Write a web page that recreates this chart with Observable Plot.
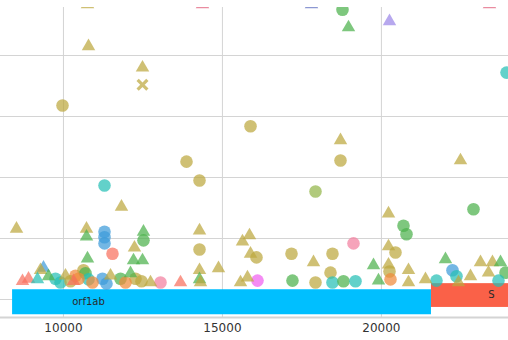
<!DOCTYPE html>
<html>
<head>
<meta charset="utf-8">
<script src="https://cdn.jsdelivr.net/npm/d3@7"></script>
<script src="https://cdn.jsdelivr.net/npm/@observablehq/plot@0.6"></script>
<style>
  html, body { margin: 0; padding: 0; background: #fff; }
  #chart { width: 508px; height: 340px; overflow: hidden; }
</style>
</head>
<body>
<div id="chart"></div>
<script>
// ---- data ----
const positions = [
  10756, 14373, 17801, 18776, 18965, 20254, 23399, 10788, 12486, 12486,
  9970, 23934, 15883, 13870, 14279, 18713, 18713, 17927, 22487, 22896,
  20223, 20694, 20789, 11291, 11825, 8523, 10725, 10725, 11291, 11291,
  11291, 12517, 12517, 11542, 12234, 12203, 12486, 10756, 13052, 14279,
  14279, 14876, 14279, 14279, 14310, 13681, 15631, 15851, 15883, 16071,
  15788, 15568, 16103, 17172, 17203, 17864, 17927, 18461, 18399, 18461,
  19122, 20223, 20443, 19751, 20223, 20254, 19908, 20286, 18807, 19185,
  20852, 20852, 21386, 21732, 22015, 22235, 22361, 22424, 23116, 23493,
  23745, 23902, 23682, 23368, 22802, 8901, 9372, 9278, 9184, 9530,
  9750, 9907, 10316, 10064, 10379, 10222, 10630, 10693, 10788, 10473,
  11228, 11354, 11480, 11794, 12109, 12266, 12454, 10913, 11951, 12738,
  8712
];
const values = [
  4.84, 4.84, 4.84, 4.75, 4.46, 4.56, 4.84, 4.15, 3.80, 3.52,
  3.18, 3.72, 2.84, 2.26, 1.95, 2.61, 2.28, 1.77, 2.28, 1.48,
  1.41, 1.21, 1.07, 1.87, 1.52, 1.16, 1.16, 1.03, 1.11, 1.02,
  0.92, 1.11, 0.97, 0.75, 0.85, 0.64, 0.64, 0.67, 0.28, 1.13,
  0.82, 0.51, 0.48, 0.33, 0.28, 0.28, 0.95, 1.05, 0.75, 0.69,
  0.36, 0.28, 0.31, 0.75, 0.31, 0.61, 0.28, 0.75, 0.44, 0.28,
  0.92, 0.87, 0.77, 0.56, 0.57, 0.46, 0.31, 0.33, 0.30, 0.30,
  0.48, 0.28, 0.33, 0.31, 0.66, 0.48, 0.38, 0.28, 0.61, 0.61,
  0.61, 0.44, 0.31, 0.44, 0.38, 0.34, 0.52, 0.48, 0.33, 0.38,
  0.34, 0.28, 0.30, 0.39, 0.39, 0.30, 0.48, 0.43, 0.33, 0.34,
  0.34, 0.26, 0.39, 0.34, 0.43, 0.34, 0.30, 0.28, 0.28, 0.28,
  0.30
];
const shapes = [
  "t","t","t","c","t","t","t","t","t","x",
  "c","c","c","c","c","t","c","c","t","c",
  "t","c","c","c","t","t","t","t","c","c",
  "c","t","c","c","t","t","t","t","c","t",
  "c","t","t","t","t","t","t","t","t","c",
  "t","t","c","c","c","t","c","c","c","c",
  "c","t","c","t","t","c","t","c","c","c",
  "t","t","t","c","t","c","c","t","t","t",
  "t","c","c","t","t","t","t","t","t","t",
  "c","c","t","t","c","c","c","c","c","c",
  "c","c","t","c","t","c","c","c","c","t",
  "t"
];
const groups = [
  "g_tan","g_rose","g_slate","g_green","g_green","g_purple","g_rose","g_tan","g_tan","g_tan",
  "g_tan","g_teal","g_tan","g_tan","g_tan","g_tan","g_tan","g_olive","g_tan","g_green",
  "g_tan","g_green","g_green","g_teal","g_tan","g_tan","g_tan","g_green","g_blue","g_blue",
  "g_blue","g_green","g_green","g_salmon","g_tan","g_green","g_green","g_green","g_pink","g_tan",
  "g_tan","g_tan","g_tan","g_green","g_tan","g_salmon","g_tan","g_tan","g_tan","g_tan",
  "g_tan","g_tan","g_violet","g_tan","g_green","g_tan","g_tan","g_tan","g_tan","g_teal",
  "g_pink","g_tan","g_tan","g_green","g_tan","g_tan","g_green","g_orange","g_green","g_teal",
  "g_tan","g_tan","g_tan","g_teal","g_green","g_blue","g_teal","g_tan","g_tan","g_tan",
  "g_green","g_green","g_teal","g_tan","g_tan","g_salmon","g_blue","g_tan","g_teal","g_green",
  "g_teal","g_teal","g_salmon","g_tan","g_orange","g_tan","g_tan","g_green","g_teal","g_orange",
  "g_blue","g_blue","g_tan","g_green","g_green","g_tan","g_tan","g_orange","g_orange","g_tan",
  "g_salmon"
];
const groupNames  = ["g_tan","g_green","g_teal","g_blue","g_salmon","g_pink","g_violet","g_purple","g_rose","g_slate","g_orange","g_olive"];
const groupColors = ["#bca73e","#4cb24c","#26bfb5","#3d9bd9","#f8705e","#f27fa0","#f060f0","#9b86e8","#e0607c","#6070c0","#f08a3c","#93b64a"];

const geneNames  = ["orf1ab", "S"];
const geneStart  = [8400, 21574];
const geneEnd    = [21574, 25384];
const geneLow    = [-0.25, -0.13];
const geneHigh   = [0.16, 0.26];
const geneLabelX = [10787, 23461];
const geneLabelY = [-0.03, 0.07];
const geneColors = ["#00bfff", "#fa6148"];

const xTicks = [10000, 15000, 20000];
const yGrid = [0, 1, 2, 3, 4];
const xDomain = [8020, 23997];
const yDomain = [-0.295, 4.787];

// ---- build tables ----
const points = positions.map((p, i) => ({pos: p, val: values[i], shape: shapes[i], group: groups[i]}));
const genes = geneNames.map((g, i) => ({name: g, start: geneStart[i], end: geneEnd[i], lo: geneLow[i], hi: geneHigh[i], lx: geneLabelX[i], ly: geneLabelY[i], color: geneColors[i]}));

const chart = Plot.plot({
  width: 508,
  height: 340,
  marginLeft: 0,
  marginRight: 0,
  marginTop: 7,
  marginBottom: 23,
  style: {fontFamily: "DejaVu Sans, sans-serif", fontSize: "12px", color: "#333", background: "#fff", overflow: "hidden"},
  x: {domain: xDomain, ticks: xTicks, tickSize: 0, tickPadding: 6, tickFormat: d3.format("d"), label: null},
  y: {domain: yDomain, axis: null},
  color: {type: "ordinal", domain: groupNames, range: groupColors},
  marks: [
    Plot.ruleY(yGrid, {stroke: "#d4d4d4", strokeWidth: 1, clip: true}),
    Plot.ruleX(xTicks, {stroke: "#d4d4d4", strokeWidth: 1}),
    Plot.ruleY([yDomain[0]], {stroke: "#d4d4d4", strokeWidth: 2}),
    Plot.rect(genes, {x1: "start", x2: "end", y1: "lo", y2: "hi", fill: d => d.color, clip: true}),
    Plot.text(genes, {x: "lx", y: "ly", text: "name", fill: "#2a2a2a", fontSize: 10}),
    Plot.dot(points.filter(d => d.shape === "c"), {x: "pos", y: "val", r: 6.3, fill: "group", fillOpacity: 0.72, stroke: "none", clip: true}),
    Plot.dot(points.filter(d => d.shape === "t"), {x: "pos", y: "val", r: 5, symbol: "triangle", fill: "group", fillOpacity: 0.72, stroke: "none", clip: true}),
    Plot.dot(points.filter(d => d.shape === "x"), {x: "pos", y: "val", r: 4.5, symbol: "times", stroke: "group", strokeWidth: 3.2, strokeOpacity: 0.72, clip: true})
  ]
});
document.getElementById("chart").appendChild(chart);
</script>
</body>
</html>
